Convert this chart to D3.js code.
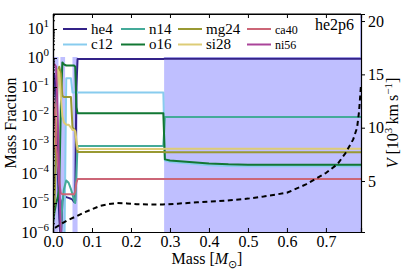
<!DOCTYPE html>
<html><head><meta charset="utf-8">
<script src="https://cdn.jsdelivr.net/npm/d3@7"></script>
<style>
body{margin:0;background:#fff}
svg{display:block}
text{font-family:"Liberation Serif","Times New Roman",serif;fill:#000}
</style>
</head><body>
<svg id="c" width="411" height="274"></svg>
<script>
// ---------------- data ----------------
const mass = [0, 0.004, 0.008, 0.012, 0.016, 0.020, 0.024, 0.028, 0.034, 0.040, 0.046, 0.050, 0.054, 0.057, 0.060, 0.063, 0.10, 0.20, 0.283, 0.287, 0.30, 0.35, 0.40, 0.45, 0.50, 0.60, 0.70, 0.79];
const he4  = [0.3, 0.25, 0.03, 2e-4, 3e-6, 4e-7, 1.2e-5, 1.8e-5, 1.6e-5, 1.5e-5, 1.4e-5, 1.3e-5, 1.1e-5, 1.2e-5, 0.1, 0.92, 0.92, 0.92, 0.92, 0.95, 0.95, 0.95, 0.95, 0.95, 0.95, 0.95, 0.95, 0.95];
const c12  = [1e-8, 1e-8, 1e-8, 1e-8, 1e-8, 1e-8, 1e-8, 1e-8, 0.2, 0.2, 0.2, 0.065, 0.065, 0.065, 0.065, 0.065, 0.065, 0.065, 0.065, 2.9e-4, 2.6e-4, 2.3e-4, 2.0e-4, 1.9e-4, 1.85e-4, 1.85e-4, 1.85e-4, 1.85e-4];
const n14  = [1e-8, 1e-8, 1e-8, 1e-8, 1e-8, 1e-6, 1e-5, 3e-5, 6e-5, 5e-5, 3e-5, 2e-5, 1.2e-5, 1e-5, 1e-4, 9.3e-4, 9.3e-4, 9.3e-4, 9.3e-4, 0.0093, 0.0093, 0.0093, 0.0093, 0.0093, 0.0093, 0.0093, 0.0093, 0.0093];
const o16  = [2e-6, 5e-6, 1e-5, 1.5e-5, 3e-5, 0.02, 0.7, 0.6, 0.55, 0.55, 0.55, 0.55, 0.55, 0.5, 0.02, 0.0125, 0.0125, 0.0125, 0.0125, 3.2e-4, 2.9e-4, 2.6e-4, 2.3e-4, 2.15e-4, 2.1e-4, 2.1e-4, 2.1e-4, 2.1e-4];
const mg24 = [3e-6, 1e-5, 1e-3, 0.3, 0.5, 0.3, 0.05, 0.045, 0.045, 0.045, 0.045, 0.004, 0.0035, 0.003, 0.001, 5.7e-4, 5.7e-4, 5.7e-4, 5.7e-4, 5.6e-4, 5.6e-4, 5.6e-4, 5.6e-4, 5.6e-4, 5.6e-4, 5.6e-4, 5.6e-4, 5.6e-4];
const si28 = [5e-4, 8e-4, 0.01, 0.4, 0.3, 0.05, 0.01, 0.006, 0.005, 0.005, 0.004, 0.0033, 0.0033, 0.003, 0.0015, 7.3e-4, 7.3e-4, 7.3e-4, 7.3e-4, 7.4e-4, 7.4e-4, 7.4e-4, 7.4e-4, 7.4e-4, 7.4e-4, 7.4e-4, 7.4e-4, 7.4e-4];
const ca40 = [0.05, 0.02, 1e-3, 3e-4, 5e-5, 2.2e-5, 2e-5, 2e-5, 2e-5, 2e-5, 2e-5, 2e-5, 2e-5, 2.5e-5, 5e-5, 6.7e-5, 6.7e-5, 6.7e-5, 6.7e-5, 6.7e-5, 6.7e-5, 6.7e-5, 6.7e-5, 6.7e-5, 6.7e-5, 6.7e-5, 6.7e-5, 6.7e-5];
const ni56 = [0.6, 0.6, 0.5, 0.01, 1e-4, 1e-6, 1e-8, 1e-8, 1e-8, 1e-8, 1e-8, 1e-8, 1e-8, 1e-8, 1e-8, 1e-8, 1e-8, 1e-8, 1e-8, 1e-8, 1e-8, 1e-8, 1e-8, 1e-8, 1e-8, 1e-8, 1e-8, 1e-8];

const speciesNames  = ["he4", "c12", "n14", "o16", "mg24", "si28", "ca40", "ni56"];
const speciesValues = [he4, c12, n14, o16, mg24, si28, ca40, ni56];
const speciesColors = ["#332288", "#88CCEE", "#44AA99", "#117733", "#999933", "#DDCC77", "#CC6677", "#AA4499"];

const velMass = [0.005, 0.02, 0.036, 0.06, 0.077, 0.10, 0.12, 0.14, 0.164, 0.19, 0.215, 0.25, 0.282, 0.32, 0.37, 0.42, 0.454, 0.50, 0.54, 0.60, 0.65, 0.70, 0.73, 0.75, 0.77, 0.78, 0.785, 0.79];
const velocity = [0.6, 0.95, 1.3, 1.7, 2.0, 2.35, 2.66, 2.82, 2.94, 2.9, 2.82, 2.8, 2.8, 2.88, 3.0, 3.1, 3.2, 3.35, 3.55, 3.9, 4.7, 5.75, 6.6, 7.6, 8.9, 10.0, 11.5, 14.0];

const shadedBands = [[0.001, 0.014], [0.019, 0.031], [0.050, 0.063], [0.285, 0.79]];

const xTicks = [0.0, 0.1, 0.2, 0.3, 0.4, 0.5, 0.6, 0.7];
const yDecades = [-6, -5, -4, -3, -2, -1, 0, 1];
const vTicks = [5, 10, 15, 20];
const modelLabel = "he2p6";

// ---------------- layout ----------------
const L = 53, T = 14, R = 361, B = 232;
const svg = d3.select("#c");

const x = d3.scaleLinear().domain([0, 0.79]).range([L, R]);
const y = d3.scaleLog().domain([1e-6, Math.pow(10, 1.517)]).range([B, T]);
const yv = d3.scaleLinear().domain([0.22, 20.66]).range([B, T]);

svg.append("defs").append("clipPath").attr("id", "clip")
  .append("rect").attr("x", L).attr("y", T).attr("width", R - L).attr("height", B - T);

const plot = svg.append("g").attr("clip-path", "url(#clip)");

// shaded bands
plot.selectAll("rect.band").data(shadedBands).join("rect")
  .attr("class", "band")
  .attr("x", d => x(d[0])).attr("width", d => x(d[1]) - x(d[0]))
  .attr("y", T).attr("height", B - T)
  .attr("fill", "rgb(191,191,255)");

// species lines
const line = d3.line().x((d, i) => x(mass[i])).y(d => y(Math.max(d, 1e-9)));
speciesValues.forEach((vals, k) => {
  plot.append("path").datum(vals)
    .attr("d", line)
    .attr("fill", "none")
    .attr("stroke", speciesColors[k])
    .attr("stroke-width", 2)
    .attr("stroke-linejoin", "round");
});

// legend (white box)
const leg = svg.append("g");
leg.append("rect").attr("x", L + 1).attr("y", T + 1).attr("width", R - L - 2).attr("height", 42).attr("fill", "#fff");
const colX = [63, 121, 178, 247];
const rowY = [29, 44.5];
speciesNames.forEach((n, i) => {
  const c = Math.floor(i / 2), r = i % 2;
  leg.append("line").attr("x1", colX[c]).attr("x2", colX[c] + 24)
    .attr("y1", rowY[r]).attr("y2", rowY[r])
    .attr("stroke", speciesColors[i]).attr("stroke-width", 2);
  leg.append("text").attr("x", colX[c] + 28).attr("y", rowY[r] + 4.5)
    .attr("font-size", c === 3 ? 12 : 15).text(n);
});
svg.append("text").attr("x", 354).attr("y", 30).attr("text-anchor", "end")
  .attr("font-size", 16).text(modelLabel);

// velocity (twin axis)
const vline = d3.line().x((d, i) => x(velMass[i])).y(d => yv(d));
plot.append("path").datum(velocity).attr("d", vline)
  .attr("fill", "none").attr("stroke", "#000").attr("stroke-width", 2)
  .attr("stroke-dasharray", "5,3.5");

// axes
const axG = svg.append("g");
const xb = axG.append("g").attr("transform", `translate(0,${B})`)
  .call(d3.axisBottom(x).tickValues(xTicks).tickSize(-4).tickPadding(4).tickFormat(d3.format(".1f")));
const xt = axG.append("g").attr("transform", `translate(0,${T})`)
  .call(d3.axisTop(x).tickValues(xTicks).tickSize(-4).tickFormat(""));
const minor = [];
yDecades.forEach(e => { for (let m = 2; m <= 9; m++) { const v = m * Math.pow(10, e); if (v <= y.domain()[1]) minor.push(v); } });
const yl = axG.append("g").attr("transform", `translate(${L},0)`)
  .call(d3.axisLeft(y).tickValues(yDecades.map(e => Math.pow(10, e))).tickSize(-4).tickFormat(""));
const ylm = axG.append("g").attr("transform", `translate(${L},0)`)
  .call(d3.axisLeft(y).tickValues(minor).tickSize(-2).tickFormat(""));
const yr = axG.append("g").attr("transform", `translate(${R},0)`)
  .call(d3.axisRight(yv).tickValues(vTicks).tickSize(4).tickPadding(3));

axG.selectAll(".domain").attr("stroke", "#000").attr("stroke-width", 1.2);
axG.selectAll(".tick line").attr("stroke", "#000");
axG.selectAll(".tick text").attr("font-family", '"Liberation Serif",serif').attr("font-size", 16).attr("fill", "#000");
// top spine
axG.append("line").attr("x1", L).attr("x2", R).attr("y1", T).attr("y2", T).attr("stroke", "#000").attr("stroke-width", 1.2);

// log labels
yl.selectAll(".tick").each(function (d) {
  const e = Math.round(Math.log10(d));
  const t = d3.select(this).append("text").attr("x", -4).attr("y", 5)
    .attr("text-anchor", "end").attr("font-size", 16);
  t.append("tspan").text("10");
  t.append("tspan").attr("dy", -7).attr("font-size", 11).text(e < 0 ? "\u2212" + (-e) : String(e));
});

// axis labels
svg.append("text").attr("transform", `translate(16,${(T + B) / 2}) rotate(-90)`)
  .attr("text-anchor", "middle").attr("font-size", 16).text("Mass Fraction");
const xl = svg.append("text").attr("x", (L + R) / 2).attr("y", 264).attr("text-anchor", "middle").attr("font-size", 16);
xl.append("tspan").text("Mass [");
xl.append("tspan").attr("font-style", "italic").text("M");
xl.append("tspan").attr("font-size", 11).attr("dy", 4).text("\u2299");
xl.append("tspan").attr("dy", -4).text("]");
const vl = svg.append("text").attr("transform", `translate(398,${(T + B) / 2}) rotate(-90)`)
  .attr("text-anchor", "middle").attr("font-size", 16);
vl.append("tspan").attr("font-style", "italic").text("V");
vl.append("tspan").text(" [10");
vl.append("tspan").attr("font-size", 11).attr("dy", -6).text("3");
vl.append("tspan").attr("dy", 6).text("\u2009km\u2009s");
vl.append("tspan").attr("font-size", 11).attr("dy", -6).text("\u22121");
vl.append("tspan").attr("dy", 6).text("]");
</script>
</body></html>
